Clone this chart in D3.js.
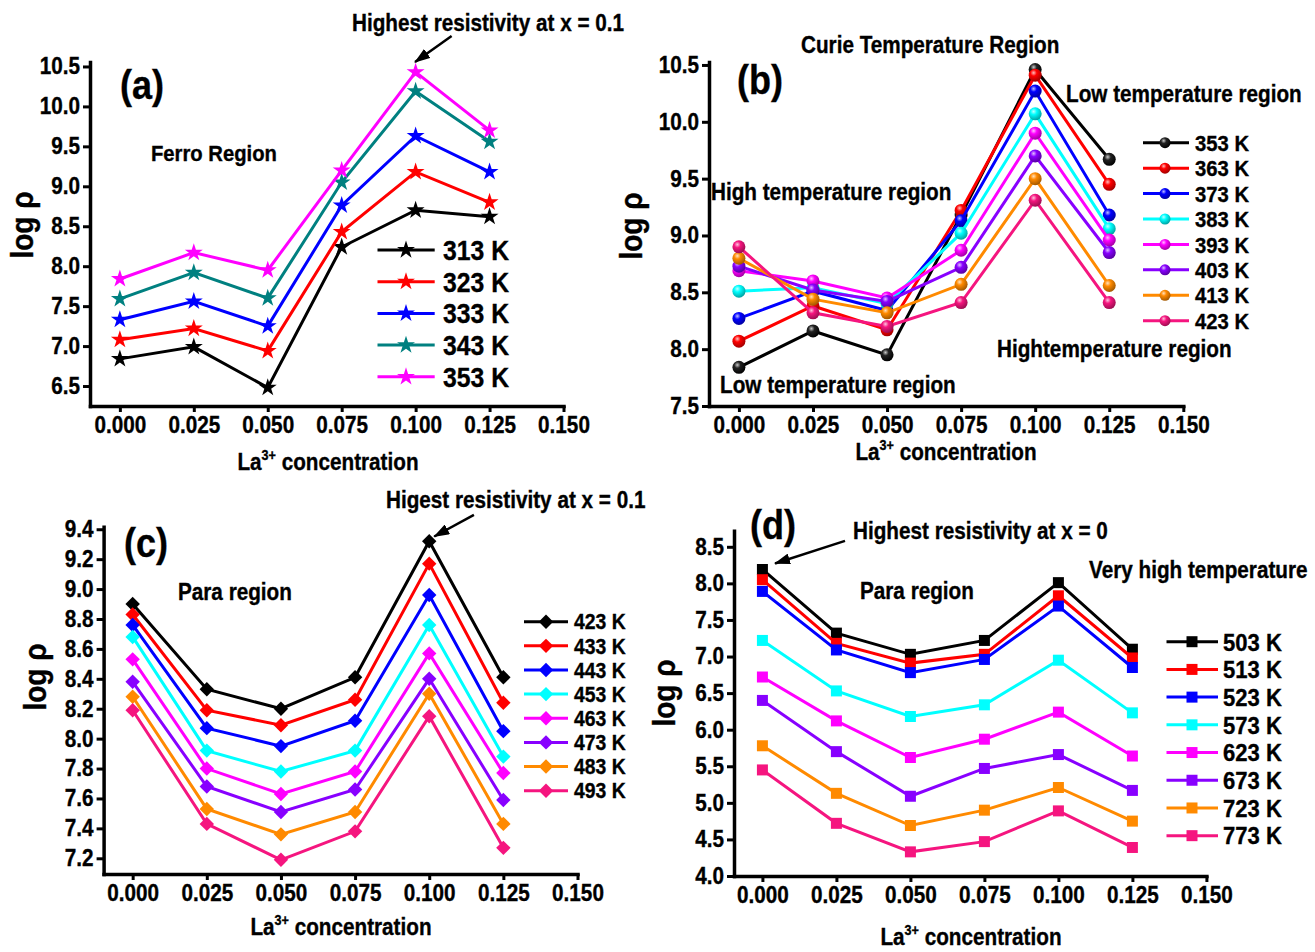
<!DOCTYPE html>
<html lang="en">
<head>
<meta charset="UTF-8">
<title>log rho vs La3+ concentration</title>
<script src="https://cdn.jsdelivr.net/npm/d3@7"></script>
<style>
  body { margin: 0; background: #fff; }
  svg { display: block; }
  text { stroke: #000; stroke-width: 0.35px; }
</style>
</head>
<body>
<svg id="chart" width="1315" height="952"></svg>
<script>
// x values and x tick labels shared by all four panels
const concentration = [0, 0.025, 0.05, 0.075, 0.1, 0.125];
const xTicks = [0, 0.025, 0.05, 0.075, 0.1, 0.125, 0.15];

// (a) Ferro region
const tempsA = ["313 K", "323 K", "333 K", "343 K", "353 K"];
const logRhoA = [
  [6.84, 6.99, 6.48, 8.24, 8.70, 8.62],
  [7.08, 7.22, 6.94, 8.43, 9.18, 8.80],
  [7.33, 7.56, 7.25, 8.76, 9.63, 9.18],
  [7.59, 7.92, 7.60, 9.05, 10.19, 9.56],
  [7.84, 8.17, 7.95, 9.20, 10.43, 9.70]
];
const yTicksA = [6.5, 7.0, 7.5, 8.0, 8.5, 9.0, 9.5, 10.0, 10.5];

// (b) Curie temperature region
const tempsB = ["353 K", "363 K", "373 K", "383 K", "393 K", "403 K", "413 K", "423 K"];
const logRhoB = [
  [7.84, 8.16, 7.95, 9.18, 10.46, 9.67],
  [8.07, 8.38, 8.17, 9.22, 10.41, 9.45],
  [8.27, 8.51, 8.34, 9.13, 10.27, 9.18],
  [8.51, 8.54, 8.40, 9.02, 10.07, 9.06],
  [8.69, 8.60, 8.45, 8.87, 9.90, 8.96],
  [8.73, 8.52, 8.42, 8.72, 9.70, 8.85],
  [8.80, 8.44, 8.32, 8.57, 9.50, 8.56],
  [8.90, 8.32, 8.20, 8.41, 9.31, 8.41]
];
const yTicksB = [7.5, 8.0, 8.5, 9.0, 9.5, 10.0, 10.5];

// (c) Para region
const tempsC = ["423 K", "433 K", "443 K", "453 K", "463 K", "473 K", "483 K", "493 K"];
const logRhoC = [
  [8.90, 8.33, 8.20, 8.41, 9.32, 8.41],
  [8.83, 8.19, 8.09, 8.26, 9.17, 8.24],
  [8.76, 8.07, 7.95, 8.12, 8.96, 8.05],
  [8.68, 7.92, 7.78, 7.92, 8.76, 7.88],
  [8.53, 7.80, 7.63, 7.78, 8.57, 7.77],
  [8.38, 7.68, 7.51, 7.66, 8.40, 7.59],
  [8.28, 7.53, 7.36, 7.51, 8.30, 7.43],
  [8.19, 7.43, 7.19, 7.38, 8.15, 7.27]
];
const yTicksC = [7.2, 7.4, 7.6, 7.8, 8.0, 8.2, 8.4, 8.6, 8.8, 9.0, 9.2, 9.4];

// (d) Para region, very high temperature
const tempsD = ["503 K", "513 K", "523 K", "573 K", "623 K", "673 K", "723 K", "773 K"];
const logRhoD = [
  [8.19, 7.32, 7.03, 7.22, 8.01, 7.10],
  [8.05, 7.18, 6.91, 7.03, 7.83, 6.98],
  [7.89, 7.09, 6.78, 6.96, 7.69, 6.85],
  [7.22, 6.53, 6.18, 6.34, 6.95, 6.23],
  [6.72, 6.12, 5.62, 5.87, 6.24, 5.64],
  [6.40, 5.70, 5.09, 5.47, 5.66, 5.17],
  [5.78, 5.13, 4.69, 4.90, 5.21, 4.75],
  [5.45, 4.72, 4.33, 4.47, 4.89, 4.39]
];
const yTicksD = [4.0, 4.5, 5.0, 5.5, 6.0, 6.5, 7.0, 7.5, 8.0, 8.5];

const colorsA = ["#000000", "#ff0000", "#0000ff", "#008080", "#ff00ff"];
const colors8 = ["#000000", "#ff0000", "#0000ff", "#00ffff", "#ff00ff", "#8800ff", "#ff8a00", "#f5157f"];

const FONT = '"Liberation Sans", Arial, Helvetica, sans-serif';
const SQ = 0.9; // text in the figure is a bit narrow

const svg = d3.select("#chart")
  .attr("font-family", FONT)
  .attr("font-weight", "bold");
const defs = svg.append("defs");

// shaded spheres for panel (b)
colors8.forEach((c, i) => {
  const gr = defs.append("radialGradient").attr("id", "sph" + i)
    .attr("cx", 0.38).attr("cy", 0.32).attr("r", 0.7);
  const hi = i === 0 ? "#c8c8c8" : d3.interpolateRgb(c, "#fff")(0.75);
  gr.append("stop").attr("offset", "0%").attr("stop-color", hi);
  gr.append("stop").attr("offset", "35%").attr("stop-color", i === 0 ? "#222" : c);
  gr.append("stop").attr("offset", "100%").attr("stop-color", d3.color(c).darker(1.3).formatHex());
});

defs.append("marker").attr("id", "arrow")
  .attr("markerUnits", "userSpaceOnUse")
  .attr("viewBox", "0 0 16 11").attr("refX", 15).attr("refY", 5.5)
  .attr("markerWidth", 16).attr("markerHeight", 11).attr("orient", "auto")
  .append("path").attr("d", "M0,0L16,5.5L0,11Z").attr("fill", "#000");

function squeeze() {
  const t = d3.select(this);
  const tx = +t.attr("x") || 0, ty = +t.attr("y") || 0;
  t.attr("x", null).attr("y", null)
    .attr("transform", `translate(${tx},${ty}) scale(${SQ},1)`);
}

function label(g, x, y, str, size, anchor) {
  return g.append("text")
    .attr("transform", `translate(${x},${y}) scale(${SQ},1)`)
    .attr("font-size", size)
    .attr("text-anchor", anchor || "start")
    .text(str);
}

function marker(g, type, color, idx, cx, cy, inLegend) {
  if (type === "circle") {
    g.append("circle").attr("cx", cx).attr("cy", cy).attr("r", inLegend ? 5.5 : 6.5)
      .attr("fill", `url(#sph${idx})`);
    return;
  }
  let d;
  if (type === "star") d = d3.symbol(d3.symbolStar, 100)();
  else if (type === "square") d = d3.symbol(d3.symbolSquare, 121)();
  else { const r = 7.2; d = `M0,${-r}L${r},0L0,${r}L${-r},0Z`; }
  g.append("path").attr("d", d).attr("transform", `translate(${cx},${cy})`).attr("fill", color);
}

const panels = [
  { temps: tempsA, values: logRhoA, colors: colorsA, yTicks: yTicksA, type: "star",
    x0: 90, x1: 563.5, xMin: -0.0101, yBottom: 406, yTop: 62, yMin: 6.25, yMax: 10.556,
    leg: { y0: 250, step: 31.7, l0: 377.5, l1: 434.7, m: 406, t: 443, size: 27.5 },
    yTitle: [33, 225], xTitle: [328, 470] },
  { temps: tempsB, values: logRhoB, colors: colors8, yTicks: yTicksB, type: "circle",
    x0: 709, x1: 1183.3, xMin: -0.0101, yBottom: 406, yTop: 62, yMin: 7.5, yMax: 10.526,
    leg: { y0: 142.7, step: 25.43, l0: 1143, l1: 1189, m: 1165, t: 1195, size: 22.5 },
    yTitle: [642, 226], xTitle: [946, 460] },
  { temps: tempsC, values: logRhoC, colors: colors8, yTicks: yTicksC, type: "diamond",
    x0: 103.6, x1: 577.5, xMin: -0.0098, yBottom: 874, yTop: 526.7, yMin: 7.095, yMax: 9.417,
    leg: { y0: 621.7, step: 24.14, l0: 524, l1: 568, m: 546, t: 574, size: 21.5 },
    yTitle: [46, 677], xTitle: [341, 935] },
  { temps: tempsD, values: logRhoD, colors: colors8, yTicks: yTicksD, type: "square",
    x0: 734, x1: 1206.4, xMin: -0.0096, yBottom: 876, yTop: 530.7, yMin: 4.0, yMax: 8.72,
    leg: { y0: 641.7, step: 27.71, l0: 1166.5, l1: 1218, m: 1192, t: 1223, size: 24.5 },
    yTitle: [675, 693], xTitle: [971, 945] }
];

const scales = panels.map(p => {
  const g = svg.append("g");
  const x = d3.scaleLinear().domain([p.xMin, 0.15]).range([p.x0, p.x1]);
  const y = d3.scaleLinear().domain([p.yMin, p.yMax]).range([p.yBottom, p.yTop]);

  const xa = g.append("g").attr("transform", `translate(0,${p.yBottom})`)
    .call(d3.axisBottom(x).tickValues(xTicks).tickFormat(d3.format(".3f"))
      .tickSize(6).tickPadding(5).tickSizeOuter(0));
  const ya = g.append("g").attr("transform", `translate(${p.x0},0)`)
    .call(d3.axisLeft(y).tickValues(p.yTicks).tickFormat(d3.format(".1f"))
      .tickSize(7).tickPadding(3).tickSizeOuter(0));
  [xa, ya].forEach(a => {
    a.attr("font-family", FONT).attr("font-size", 23).attr("font-weight", "bold");
    a.select(".domain").attr("stroke-width", 3.5).attr("stroke-linecap", "square");
    a.selectAll(".tick line").attr("stroke-width", 3);
    a.selectAll(".tick text").attr("fill", "#000").each(squeeze);
  });

  const line = d3.line().x((d, i) => x(concentration[i])).y(d => y(d));
  p.values.forEach((vals, k) => {
    g.append("path").datum(vals).attr("d", line)
      .attr("fill", "none").attr("stroke", p.colors[k])
      .attr("stroke-width", 3).attr("stroke-linejoin", "miter");
    vals.forEach((v, i) => marker(g, p.type, p.colors[k], k, x(concentration[i]), y(v), false));
  });

  // legend
  p.temps.forEach((t, k) => {
    const ly = p.leg.y0 + k * p.leg.step;
    g.append("line").attr("x1", p.leg.l0).attr("x2", p.leg.l1).attr("y1", ly).attr("y2", ly)
      .attr("stroke", p.colors[k]).attr("stroke-width", 3);
    marker(g, p.type, p.colors[k], k, p.leg.m, ly, true);
    label(g, p.leg.t, ly, t, p.leg.size).attr("dy", "0.36em");
  });

  // axis titles
  g.append("text")
    .attr("transform", `translate(${p.yTitle[0]},${p.yTitle[1]}) scale(1.15,1) rotate(-90)`)
    .attr("font-size", 28).attr("text-anchor", "middle").text("log \u03c1");
  const xt = g.append("text")
    .attr("transform", `translate(${p.xTitle[0]},${p.xTitle[1]}) scale(${SQ},1)`)
    .attr("font-size", 23).attr("text-anchor", "middle");
  xt.append("tspan").text("La");
  xt.append("tspan").attr("font-size", 14).attr("dy", -10).text("3+");
  xt.append("tspan").attr("dy", 10).text(" concentration");

  return { g, x, y };
});

function arrow(s, xv, yv, tail, tip) {
  const px = s.x(xv), py = s.y(yv);
  s.g.append("line")
    .attr("x1", px + tail[0]).attr("y1", py + tail[1])
    .attr("x2", px + tip[0]).attr("y2", py + tip[1])
    .attr("stroke", "#000").attr("stroke-width", 2.5)
    .attr("marker-end", "url(#arrow)");
}

// (a) annotations
const A = scales[0].g;
label(A, 120, 99, "(a)", 40);
label(A, 151, 161, "Ferro Region", 22.5);
label(A, 352, 31, "Highest resistivity at x = 0.1", 23);
arrow(scales[0], 0.1, logRhoA[4][4], [36, -36], [-0.6, -10]);

// (b) annotations
const B = scales[1].g;
label(B, 737, 94, "(b)", 40);
label(B, 801, 53, "Curie Temperature Region", 23);
label(B, 1066, 102, "Low temperature region", 23);
label(B, 711, 200, "High temperature region", 23);
label(B, 997, 357, "Hightemperature region", 23);
label(B, 720, 393, "Low temperature region", 23);

// (c) annotations
const C = scales[2].g;
label(C, 124, 557, "(c)", 40);
label(C, 178, 600, "Para region", 23);
label(C, 386, 508, "Higest resistivity at x = 0.1", 23);
arrow(scales[2], 0.1, logRhoC[0][4], [44.7, -26.4], [5, -4.7]);

// (d) annotations
const D = scales[3].g;
label(D, 750, 539, "(d)", 40);
label(D, 853, 539, "Highest resistivity at x = 0", 23);
label(D, 1089, 578, "Very high temperature", 23);
label(D, 860, 599, "Para region", 23);
arrow(scales[3], 0, logRhoD[0][0], [82.6, -28.6], [12.6, -6]);
</script>
</body>
</html>
